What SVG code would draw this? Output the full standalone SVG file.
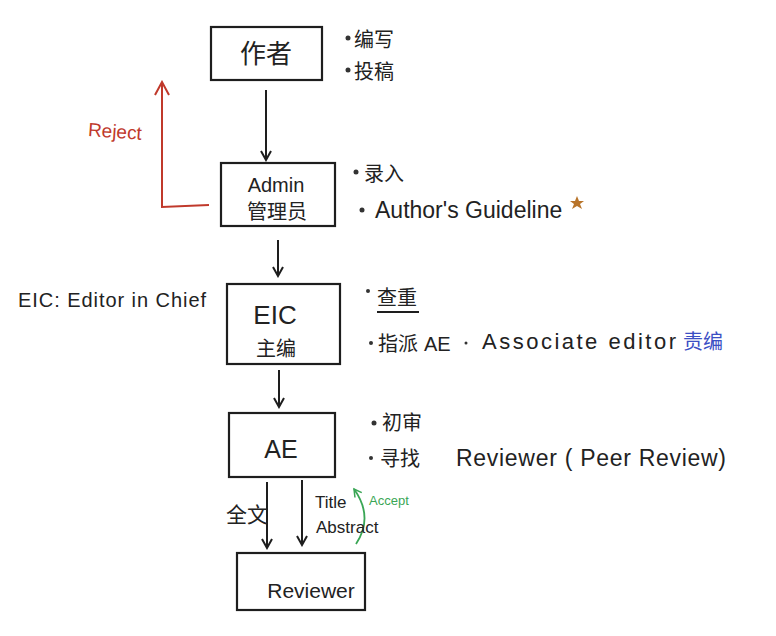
<svg xmlns="http://www.w3.org/2000/svg" width="776" height="636" viewBox="0 0 776 636">
<style>
.box{fill:none;stroke:#1e1e1e;stroke-width:2.2}
.ln{fill:none;stroke:#1e1e1e;stroke-width:2}
.t{font-family:"Liberation Sans","Noto Sans CJK SC",sans-serif;fill:#222}
.cjk{font-family:"Noto Sans CJK SC","Liberation Sans",sans-serif;fill:#222}
.dot{fill:#333}
</style>
<defs>
<marker id="ah" viewBox="0 0 12 12" refX="10" refY="6" markerWidth="12" markerHeight="12" markerUnits="userSpaceOnUse" orient="auto">
<path d="M1,1 L10,6 L1,11" fill="none" stroke="#1e1e1e" stroke-width="2"/>
</marker>
<marker id="ahr" viewBox="0 0 16 16" refX="14" refY="8" markerWidth="16" markerHeight="16" markerUnits="userSpaceOnUse" orient="auto">
<path d="M1,1 L14,8 L1,15" fill="none" stroke="#c0392b" stroke-width="2"/>
</marker>
<marker id="ahg" viewBox="0 0 12 12" refX="10" refY="6" markerWidth="10" markerHeight="10" markerUnits="userSpaceOnUse" orient="auto">
<path d="M1,1 L10,6 L1,11" fill="none" stroke="#3aa655" stroke-width="1.8"/>
</marker>
</defs>
<rect width="776" height="636" fill="#ffffff"/>

<g id="connectors">
<line class="ln" x1="266" y1="90" x2="266" y2="160" marker-end="url(#ah)"/>
<line class="ln" x1="278" y1="240" x2="278" y2="276" marker-end="url(#ah)"/>
<line class="ln" x1="279" y1="370" x2="279" y2="407" marker-end="url(#ah)"/>
<line class="ln" x1="267" y1="482" x2="267" y2="548" marker-end="url(#ah)"/>
<line class="ln" x1="302" y1="480" x2="302" y2="545" marker-end="url(#ah)"/>
<path d="M209,205 L162,207 L162,82" fill="none" stroke="#c0392b" stroke-width="2" marker-end="url(#ahr)"/>
<path d="M356,544 Q374,517 354,489" fill="none" stroke="#3aa655" stroke-width="1.8" marker-end="url(#ahg)"/>
<text class="t" x="88" y="138" font-size="19" style="fill:#c0392b" transform="rotate(4 115 132)">Reject</text>
<text class="cjk" x="226" y="522" font-size="21">全文</text>
<text class="t" x="315" y="508" font-size="17">Title</text>
<text class="t" x="316" y="533" font-size="17">Abstract</text>
<text class="t" x="369" y="505" font-size="13" style="fill:#3aa655">Accept</text>
</g>

<g id="author">
<rect class="box" x="211" y="27" width="111" height="53"/>
<text class="cjk" x="266" y="63" font-size="26" text-anchor="middle">作者</text>
<circle class="dot" cx="348" cy="38" r="2.5"/>
<text class="cjk" x="354" y="47" font-size="20">编写</text>
<circle class="dot" cx="348" cy="70" r="2.5"/>
<text class="cjk" x="354" y="79" font-size="20">投稿</text>
</g>

<g id="admin">
<rect class="box" x="221" y="163" width="114" height="63"/>
<text class="t" x="276" y="192" font-size="20" text-anchor="middle">Admin</text>
<text class="cjk" x="277" y="219" font-size="20" text-anchor="middle">管理员</text>
<circle class="dot" cx="356" cy="172" r="2.5"/>
<text class="cjk" x="364" y="181" font-size="20">录入</text>
<circle class="dot" cx="362" cy="210" r="2.5"/>
<text class="t" x="375" y="218" font-size="23">Author's Guideline</text>
<polygon points="577,196 579,201 584,201 580,204 582,209 577,206 572,209 574,204 570,201 575,201" fill="#b8742a"/>
</g>

<g id="eic">
<text class="t" x="18" y="307" font-size="20" textLength="188" lengthAdjust="spacing">EIC: Editor in Chief</text>
<rect class="box" x="227" y="284" width="113" height="80"/>
<text class="t" x="275" y="324" font-size="26" text-anchor="middle">EIC</text>
<text class="cjk" x="276" y="356" font-size="20" text-anchor="middle">主编</text>
<circle class="dot" cx="368" cy="291" r="2"/>
<text class="cjk" x="377" y="305" font-size="20">查重</text>
<line x1="377" y1="312" x2="419" y2="312" stroke="#1e1e1e" stroke-width="1.8"/>
<circle class="dot" cx="371" cy="343" r="2"/>
<text class="cjk" x="378" y="351" font-size="20">指派</text>
<text class="t" x="424" y="351" font-size="20">AE</text>
<circle class="dot" cx="466" cy="343" r="1.5"/>
<text class="t" x="482" y="349" font-size="22" textLength="194" lengthAdjust="spacing">Associate editor</text>
<text class="cjk" x="683" y="349" font-size="20" style="fill:#3b4fc4">责编</text>
</g>

<g id="ae">
<rect class="box" x="229" y="413" width="106" height="64"/>
<text class="t" x="281" y="458" font-size="25" text-anchor="middle">AE</text>
<circle class="dot" cx="374" cy="423" r="2.5"/>
<text class="cjk" x="382" y="430" font-size="20">初审</text>
<circle class="dot" cx="371" cy="458" r="2"/>
<text class="cjk" x="380" y="466" font-size="20">寻找</text>
<text class="t" x="456" y="466" font-size="23" textLength="270" lengthAdjust="spacing">Reviewer ( Peer Review)</text>
</g>

<g id="reviewer">
<rect class="box" x="237" y="553" width="128" height="57"/>
<text class="t" x="311" y="598" font-size="21" text-anchor="middle">Reviewer</text>
</g>
</svg>
